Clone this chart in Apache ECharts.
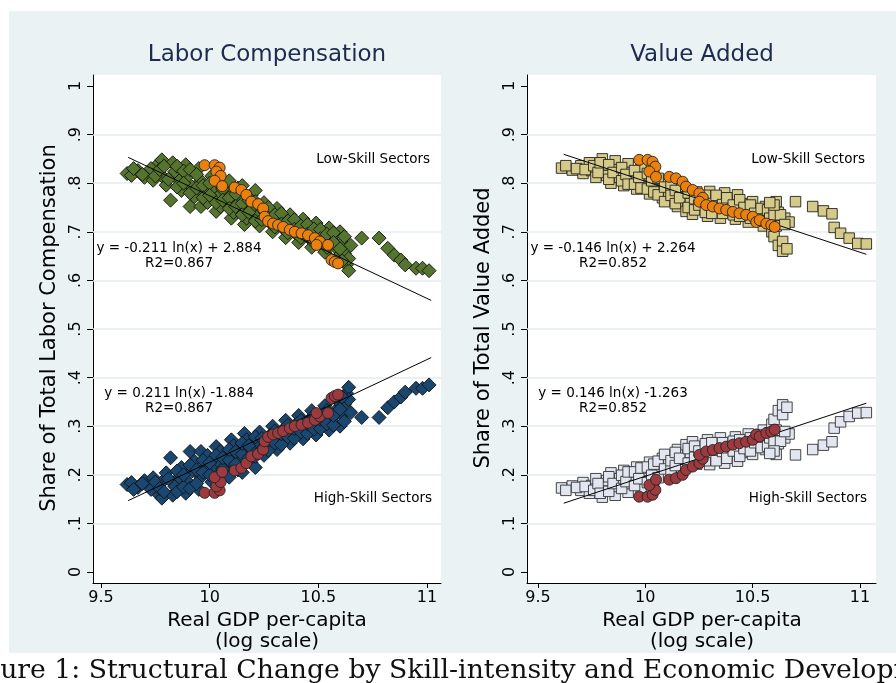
<!DOCTYPE html>
<html>
<head>
<meta charset="utf-8">
<script src="https://cdn.jsdelivr.net/npm/echarts@6.0.0/dist/echarts.min.js"></script>
<style>
  html, body { margin: 0; padding: 0; background: #fff; }
  #chart { width: 896px; height: 683px; }
</style>
</head>
<body>
<div id="chart"></div>
<script>
// ---- data (x = log real GDP per capita, y = share) ----
const xTicks = [9.5, 10, 10.5, 11];
const yTicks = [0, .1, .2, .3, .4, .5, .6, .7, .8, .9, 1];
const gridY = [.1, .2, .3, .4, .5, .6, .7, .8, .9];

// labor compensation, low-skill sectors (green diamonds)
const lcLowPoints = [
  [9.62,0.820],[9.64,0.816],[9.67,0.826],[9.70,0.812],[9.72,0.822],[9.74,0.806],[9.76,0.838],[9.78,0.848],
  [9.78,0.815],[9.80,0.796],[9.82,0.765],[9.83,0.842],[9.84,0.824],[9.86,0.805],[9.87,0.785],[9.89,0.838],
  [9.90,0.815],[9.91,0.752],[9.92,0.792],[9.93,0.772],[9.95,0.830],[9.96,0.805],[9.96,0.752],[9.98,0.782],
  [9.99,0.760],[10.01,0.815],[10.02,0.793],[10.03,0.742],[10.04,0.772],[10.05,0.752],[10.07,0.800],[10.08,0.780],
  [10.09,0.805],[10.10,0.760],[10.10,0.728],[10.11,0.740],[10.13,0.790],[10.14,0.768],[10.15,0.795],[10.16,0.748],
  [10.16,0.715],[10.17,0.728],[10.19,0.775],[10.20,0.752],[10.21,0.785],[10.22,0.732],[10.23,0.712],[10.25,0.760],
  [10.26,0.738],[10.28,0.718],[10.29,0.700],[10.31,0.748],[10.32,0.726],[10.34,0.706],[10.35,0.688],[10.37,0.735],
  [10.38,0.714],[10.40,0.695],[10.41,0.678],[10.43,0.726],[10.44,0.705],[10.46,0.686],[10.47,0.668],[10.49,0.718],
  [10.50,0.696],[10.52,0.676],[10.53,0.658],[10.55,0.708],[10.56,0.688],[10.58,0.668],[10.59,0.648],[10.60,0.700],
  [10.61,0.678],[10.62,0.655],[10.63,0.632],[10.64,0.620],[10.65,0.672],
  [9.65,0.830],[9.69,0.818],[9.73,0.830],[9.75,0.815],[9.77,0.828],[9.79,0.835],[9.81,0.808],[9.85,0.835],
  [9.85,0.792],[9.88,0.825],[9.88,0.800],[9.91,0.828],[9.91,0.780],[9.94,0.818],[9.94,0.790],[9.97,0.795],
  [9.97,0.770],[10.00,0.800],[10.00,0.775],[10.03,0.805],[10.03,0.760],[10.06,0.788],[10.06,0.765],[10.09,0.770],
  [10.09,0.748],[10.12,0.778],[10.12,0.752],[10.15,0.758],[10.15,0.735],[10.18,0.765],[10.18,0.740],[10.21,0.762],
  [10.21,0.722],[10.24,0.748],[10.24,0.725],[10.27,0.750],[10.27,0.728],[10.30,0.735],[10.30,0.710],[10.33,0.738],
  [10.33,0.716],[10.36,0.722],[10.36,0.698],[10.39,0.725],[10.39,0.705],[10.42,0.712],[10.42,0.688],[10.45,0.715],
  [10.45,0.695],[10.48,0.706],[10.48,0.678],[10.51,0.705],[10.51,0.686],[10.54,0.695],[10.54,0.668],[10.57,0.698],
  [10.57,0.678],[10.60,0.665],[10.62,0.690],[10.64,0.645],[10.61,0.640],
  [10.70,0.687],[10.78,0.687],[10.82,0.666],[10.85,0.652],[10.88,0.642],[10.90,0.632],[10.95,0.625],[10.98,0.625],[11.01,0.620]
];
// labor compensation, high-skill sectors (navy diamonds)
const lcHighPoints = [
  [9.62,0.180],[9.64,0.184],[9.67,0.174],[9.70,0.188],[9.72,0.178],[9.74,0.194],[9.76,0.162],[9.78,0.152],
  [9.78,0.185],[9.80,0.204],[9.82,0.235],[9.83,0.158],[9.84,0.176],[9.86,0.195],[9.87,0.215],[9.89,0.162],
  [9.90,0.185],[9.91,0.248],[9.92,0.208],[9.93,0.228],[9.95,0.170],[9.96,0.195],[9.96,0.248],[9.98,0.218],
  [9.99,0.240],[10.01,0.185],[10.02,0.207],[10.03,0.258],[10.04,0.228],[10.05,0.248],[10.07,0.200],[10.08,0.220],
  [10.09,0.195],[10.10,0.240],[10.10,0.272],[10.11,0.260],[10.13,0.210],[10.14,0.232],[10.15,0.205],[10.16,0.252],
  [10.16,0.285],[10.17,0.272],[10.19,0.225],[10.20,0.248],[10.21,0.215],[10.22,0.268],[10.23,0.288],[10.25,0.240],
  [10.26,0.262],[10.28,0.282],[10.29,0.300],[10.31,0.252],[10.32,0.274],[10.34,0.294],[10.35,0.312],[10.37,0.265],
  [10.38,0.286],[10.40,0.305],[10.41,0.322],[10.43,0.274],[10.44,0.295],[10.46,0.314],[10.47,0.332],[10.49,0.282],
  [10.50,0.304],[10.52,0.324],[10.53,0.342],[10.55,0.292],[10.56,0.312],[10.58,0.332],[10.59,0.352],[10.60,0.300],
  [10.61,0.322],[10.62,0.345],[10.63,0.368],[10.64,0.380],[10.65,0.328],
  [9.65,0.170],[9.69,0.182],[9.73,0.170],[9.75,0.185],[9.77,0.172],[9.79,0.165],[9.81,0.192],[9.85,0.165],
  [9.85,0.208],[9.88,0.175],[9.88,0.200],[9.91,0.172],[9.91,0.220],[9.94,0.182],[9.94,0.210],[9.97,0.205],
  [9.97,0.230],[10.00,0.200],[10.00,0.225],[10.03,0.195],[10.03,0.240],[10.06,0.212],[10.06,0.235],[10.09,0.230],
  [10.09,0.252],[10.12,0.222],[10.12,0.248],[10.15,0.242],[10.15,0.265],[10.18,0.235],[10.18,0.260],[10.21,0.238],
  [10.21,0.278],[10.24,0.252],[10.24,0.275],[10.27,0.250],[10.27,0.272],[10.30,0.265],[10.30,0.290],[10.33,0.262],
  [10.33,0.284],[10.36,0.278],[10.36,0.302],[10.39,0.275],[10.39,0.295],[10.42,0.288],[10.42,0.312],[10.45,0.285],
  [10.45,0.305],[10.48,0.294],[10.48,0.322],[10.51,0.295],[10.51,0.314],[10.54,0.305],[10.54,0.332],[10.57,0.302],
  [10.57,0.322],[10.60,0.335],[10.62,0.310],[10.64,0.355],[10.61,0.360],
  [10.70,0.318],[10.78,0.318],[10.82,0.338],[10.85,0.350],[10.88,0.360],[10.90,0.370],[10.95,0.378],[10.98,0.378],[11.01,0.385]
];
// labor compensation, averages (circles)
const lcLowMean = [
  [9.977,0.837],[10.023,0.837],[10.046,0.832],[10.031,0.824],[10.051,0.815],[10.023,0.805],[10.058,0.794],[10.115,0.791],
  [10.146,0.786],[10.169,0.776],[10.192,0.762],[10.223,0.757],[10.246,0.748],[10.253,0.731],[10.269,0.722],[10.292,0.717],
  [10.315,0.714],[10.338,0.710],[10.369,0.704],[10.392,0.700],[10.423,0.697],[10.453,0.693],[10.484,0.687],[10.507,0.680],
  [10.492,0.673],[10.545,0.673],[10.561,0.642],[10.576,0.638],[10.591,0.635]
];
const lcHighMean = [
  [9.977,0.163],[10.023,0.163],[10.046,0.168],[10.031,0.176],[10.051,0.185],[10.023,0.195],[10.058,0.206],[10.115,0.209],
  [10.146,0.214],[10.169,0.224],[10.192,0.238],[10.223,0.243],[10.246,0.252],[10.253,0.269],[10.269,0.278],[10.292,0.283],
  [10.315,0.286],[10.338,0.290],[10.369,0.296],[10.392,0.300],[10.423,0.303],[10.453,0.307],[10.484,0.313],[10.507,0.320],
  [10.492,0.327],[10.545,0.327],[10.561,0.358],[10.576,0.362],[10.591,0.365]
];
// value added, low-skill sectors (khaki squares)
const vaLowPoints = [
  [9.61,0.831],[9.66,0.827],[9.70,0.836],[9.71,0.820],[9.74,0.842],[9.75,0.826],[9.77,0.812],[9.80,0.850],
  [9.81,0.833],[9.82,0.816],[9.84,0.800],[9.86,0.846],[9.87,0.828],[9.88,0.812],[9.90,0.795],[9.92,0.840],
  [9.93,0.822],[9.94,0.805],[9.96,0.788],[9.98,0.830],[9.99,0.812],[10.00,0.795],[10.02,0.778],[10.04,0.815],
  [10.05,0.800],[10.07,0.786],[10.08,0.770],[10.10,0.800],[10.11,0.782],[10.13,0.766],[10.15,0.752],[10.17,0.790],
  [10.18,0.772],[10.19,0.742],[10.21,0.758],[10.22,0.736],[10.24,0.782],[10.26,0.764],[10.27,0.748],[10.29,0.732],
  [10.30,0.783],[10.32,0.766],[10.34,0.750],[10.35,0.728],[10.37,0.780],[10.39,0.762],[10.40,0.745],[10.42,0.726],
  [10.43,0.776],[10.45,0.758],[10.47,0.740],[10.48,0.720],[10.50,0.762],[10.52,0.745],[10.53,0.728],[10.55,0.712],
  [10.56,0.752],[10.57,0.736],[10.58,0.718],[10.59,0.700],[10.60,0.690],[10.61,0.762],[10.62,0.740],[10.62,0.672],
  [10.63,0.722],[10.64,0.680],[10.64,0.660],[10.65,0.728],[10.66,0.665],[10.67,0.720],
  [9.63,0.836],[9.68,0.830],[9.72,0.828],[9.76,0.836],[9.78,0.822],[9.79,0.842],[9.83,0.838],[9.83,0.808],
  [9.85,0.822],[9.89,0.832],[9.89,0.805],[9.91,0.818],[9.92,0.798],[9.95,0.826],[9.95,0.798],[9.97,0.812],
  [9.98,0.790],[10.01,0.820],[10.01,0.788],[10.03,0.805],[10.04,0.782],[10.06,0.810],[10.06,0.776],[10.09,0.792],
  [10.09,0.762],[10.12,0.795],[10.12,0.775],[10.14,0.785],[10.14,0.758],[10.16,0.770],[10.20,0.780],[10.20,0.750],
  [10.23,0.768],[10.23,0.745],[10.25,0.755],[10.28,0.775],[10.28,0.740],[10.31,0.758],[10.31,0.738],[10.33,0.775],
  [10.36,0.756],[10.36,0.738],[10.38,0.770],[10.41,0.755],[10.41,0.735],[10.44,0.766],[10.44,0.732],[10.46,0.750],
  [10.49,0.755],[10.49,0.728],[10.51,0.738],[10.54,0.748],[10.54,0.722],[10.57,0.745],[10.58,0.728],[10.60,0.735],
  [10.61,0.712],[10.63,0.735],[10.65,0.715],[10.60,0.755],[10.58,0.760],
  [10.70,0.762],[10.78,0.752],[10.83,0.743],[10.87,0.737],[10.88,0.709],[10.91,0.697],[10.95,0.687],[10.99,0.676],[11.03,0.675]
];
// value added, high-skill sectors (light squares)
const vaHighPoints = [
  [9.61,0.173],[9.66,0.177],[9.70,0.168],[9.71,0.184],[9.74,0.162],[9.75,0.178],[9.77,0.192],[9.80,0.154],
  [9.81,0.171],[9.82,0.188],[9.84,0.204],[9.86,0.158],[9.87,0.176],[9.88,0.192],[9.90,0.209],[9.92,0.164],
  [9.93,0.182],[9.94,0.199],[9.96,0.216],[9.98,0.174],[9.99,0.192],[10.00,0.209],[10.02,0.226],[10.04,0.189],
  [10.05,0.204],[10.07,0.218],[10.08,0.234],[10.10,0.204],[10.11,0.222],[10.13,0.238],[10.15,0.252],[10.17,0.214],
  [10.18,0.232],[10.19,0.262],[10.21,0.246],[10.22,0.268],[10.24,0.222],[10.26,0.240],[10.27,0.256],[10.29,0.272],
  [10.30,0.221],[10.32,0.238],[10.34,0.254],[10.35,0.276],[10.37,0.224],[10.39,0.242],[10.40,0.259],[10.42,0.278],
  [10.43,0.228],[10.45,0.246],[10.47,0.264],[10.48,0.284],[10.50,0.242],[10.52,0.259],[10.53,0.276],[10.55,0.292],
  [10.56,0.252],[10.57,0.268],[10.58,0.286],[10.59,0.304],[10.60,0.314],[10.61,0.242],[10.62,0.264],[10.62,0.332],
  [10.63,0.282],[10.64,0.324],[10.64,0.344],[10.65,0.276],[10.66,0.339],[10.67,0.284],
  [9.63,0.168],[9.68,0.174],[9.72,0.176],[9.76,0.168],[9.78,0.182],[9.79,0.162],[9.83,0.166],[9.83,0.196],
  [9.85,0.182],[9.89,0.172],[9.89,0.199],[9.91,0.186],[9.92,0.206],[9.95,0.178],[9.95,0.206],[9.97,0.192],
  [9.98,0.214],[10.01,0.184],[10.01,0.216],[10.03,0.199],[10.04,0.222],[10.06,0.194],[10.06,0.228],[10.09,0.212],
  [10.09,0.242],[10.12,0.209],[10.12,0.229],[10.14,0.219],[10.14,0.246],[10.16,0.234],[10.20,0.224],[10.20,0.254],
  [10.23,0.236],[10.23,0.259],[10.25,0.249],[10.28,0.229],[10.28,0.264],[10.31,0.246],[10.31,0.266],[10.33,0.229],
  [10.36,0.248],[10.36,0.266],[10.38,0.234],[10.41,0.249],[10.41,0.269],[10.44,0.238],[10.44,0.272],[10.46,0.254],
  [10.49,0.249],[10.49,0.276],[10.51,0.266],[10.54,0.256],[10.54,0.282],[10.57,0.259],[10.58,0.276],[10.60,0.269],
  [10.61,0.292],[10.63,0.269],[10.65,0.289],[10.60,0.249],[10.58,0.244],
  [10.70,0.241],[10.78,0.252],[10.83,0.261],[10.87,0.268],[10.88,0.296],[10.91,0.309],[10.95,0.320],[10.99,0.327],[11.03,0.328]
];
const vaLowMean = [
  [9.972,0.848],[10.011,0.848],[10.034,0.844],[10.047,0.834],[10.019,0.824],[10.050,0.813],[10.112,0.813],[10.143,0.810],
  [10.174,0.803],[10.190,0.793],[10.221,0.786],[10.252,0.779],[10.268,0.770],[10.252,0.762],[10.284,0.755],[10.315,0.752],
  [10.346,0.748],[10.377,0.745],[10.408,0.741],[10.439,0.738],[10.470,0.735],[10.501,0.731],[10.517,0.720],[10.533,0.724],
  [10.564,0.717],[10.587,0.714],[10.603,0.710]
];
const vaHighMean = [
  [9.972,0.155],[10.011,0.155],[10.034,0.159],[10.047,0.169],[10.019,0.179],[10.050,0.190],[10.112,0.190],[10.143,0.193],
  [10.174,0.200],[10.190,0.210],[10.221,0.217],[10.252,0.224],[10.268,0.233],[10.252,0.241],[10.284,0.248],[10.315,0.251],
  [10.346,0.255],[10.377,0.258],[10.408,0.262],[10.439,0.265],[10.470,0.268],[10.501,0.272],[10.517,0.283],[10.533,0.279],
  [10.564,0.286],[10.587,0.289],[10.603,0.293]
];

// fitted lines: y = slope*ln(x) + intercept  (LC low, LC high, VA low, VA high)
const fitSlope = [-0.211, 0.211, -0.146, 0.146];
const fitIntercept = [2.884, -1.884, 2.264, -1.263];
const fitR2 = [0.867, 0.867, 0.852, 0.852];
const fitFrom = [9.625, 9.625, 9.62, 9.62];
const fitTo = [11.02, 11.02, 11.03, 11.03];

const panelTitles = ['Labor Compensation', 'Value Added'];
const yTitles = ['Share of Total Labor Compensation', 'Share of Total Value Added'];

// ---- chart ----
const chart = echarts.init(document.getElementById('chart'));
const FONT = '"DejaVu Sans", sans-serif';

const panels = [
  { left: 93, width: 348, xMin: 9.463, xMax: 11.065, cx: 267 },
  { left: 527, width: 349, xMin: 9.449, xMax: 11.075, cx: 702 }
];

function fitLine(i) {
  return [fitFrom[i], fitTo[i]].map(x => [x, fitSlope[i] * x + fitIntercept[i]]);
}
function fitText(i) {
  const b = fitIntercept[i];
  const c = b >= 0 ? ' + ' + b.toFixed(3) : ' -' + Math.abs(b).toFixed(3);
  return 'y = ' + fitSlope[i].toFixed(3) + ' ln(x)' + c + '\nR2=' + fitR2[i].toFixed(3);
}

const grid = panels.map(p => ({
  left: p.left, top: 75, width: p.width, height: 508,
  show: true, backgroundColor: '#fff', borderWidth: 0
}));

const xAxis = panels.map((p, i) => ({
  gridIndex: i, type: 'value', min: p.xMin, max: p.xMax,
  axisLine: { show: true, onZero: false, lineStyle: { color: '#000', width: 1 } },
  axisTick: { show: true, length: 5, customValues: xTicks, lineStyle: { color: '#000' } },
  axisLabel: { customValues: xTicks, color: '#000', fontSize: 16, fontFamily: FONT, margin: 7 },
  splitLine: { show: false }
}));

const yAxis = panels.map((p, i) => ({
  gridIndex: i, type: 'value', min: -0.0226, max: 1.0226,
  axisLine: { show: true, onZero: false, lineStyle: { color: '#000', width: 1 } },
  axisTick: { show: true, length: 6, customValues: yTicks, lineStyle: { color: '#000' } },
  axisLabel: {
    customValues: yTicks, rotate: 90, color: '#000', fontSize: 16, fontFamily: FONT, margin: 9,
    formatter: v => (v === 0 ? '0' : v === 1 ? '1' : '.' + Math.round(v * 10))
  },
  splitLine: { show: false }
}));

function scatter(i, data, symbol, size, color, border, z) {
  return {
    type: 'scatter', xAxisIndex: i, yAxisIndex: i, data, symbol, symbolSize: size, z,
    itemStyle: { color, borderColor: border, borderWidth: 0.9, opacity: 1 }
  };
}
function line(i, k) {
  return {
    type: 'line', xAxisIndex: i, yAxisIndex: i, data: fitLine(k), showSymbol: false, z: 3,
    lineStyle: { color: '#000', width: 1 }
  };
}
function gridLines(i) {
  return {
    type: 'scatter', xAxisIndex: i, yAxisIndex: i, data: [], z: 1,
    markLine: {
      silent: true, symbol: ['none', 'none'], z: 1, label: { show: false },
      lineStyle: { color: '#E4ECEE', width: 1.5, type: 'solid' },
      data: gridY.map(v => ({ yAxis: v }))
    }
  };
}

const series = [
  gridLines(0), gridLines(1),
  scatter(0, lcLowPoints, 'diamond', 14, '#55752F', '#111', 2),
  scatter(0, lcHighPoints, 'diamond', 14, '#1A476F', '#111', 2),
  line(0, 0), line(0, 1),
  scatter(0, lcLowMean, 'circle', 11, '#EC800C', '#222', 4),
  scatter(0, lcHighMean, 'circle', 11, '#9C3A3F', '#222', 4),
  scatter(1, vaLowPoints, 'rect', 10.5, '#D6CA88', '#222', 2),
  scatter(1, vaHighPoints, 'rect', 10.5, '#E2E6F0', '#333', 2),
  line(1, 2), line(1, 3),
  scatter(1, vaLowMean, 'circle', 11, '#EC800C', '#222', 4),
  scatter(1, vaHighMean, 'circle', 11, '#9C3A3F', '#222', 4)
];

function txt(text, x, y, size, opts) {
  return Object.assign({
    type: 'text', x, y, silent: true,
    style: Object.assign({
      text, fill: '#000', fontSize: size, fontFamily: FONT,
      align: 'center', verticalAlign: 'middle', lineHeight: 14.5
    }, (opts && opts.style) || {})
  }, opts && opts.el);
}

const graphic = [
  { type: 'rect', z: -10, silent: true, shape: { x: 9, y: 11, width: 887, height: 642 }, style: { fill: '#EAF2F3' } }
];
panels.forEach((p, i) => {
  graphic.push(txt(panelTitles[i], p.cx, 55, 23, { style: { fill: '#1C2B4F' } }));
  graphic.push(txt(yTitles[i], p.left - 43, 328, 21, { el: { rotation: Math.PI / 2 } }));
  graphic.push(txt('Real GDP per-capita\n(log scale)', p.cx, 631, 20, { style: { lineHeight: 21 } }));
  graphic.push(txt('Low-Skill Sectors', p.left + p.width - 11, 159, 13.5, { style: { align: 'right' } }));
  graphic.push(txt('High-Skill Sectors', p.left + p.width - 9, 498, 13.5, { style: { align: 'right' } }));
  graphic.push(txt(fitText(2 * i), p.left + 86, 256, 13.5));
  graphic.push(txt(fitText(2 * i + 1), p.left + 86, 401, 13.5));
});
graphic.push({
  type: 'text', x: -44, y: 671, silent: true,
  style: {
    text: 'Figure 1: Structural Change by Skill-intensity and Economic Development',
    fill: '#111', fontSize: 26.7, fontFamily: '"DejaVu Serif", serif',
    align: 'left', verticalAlign: 'middle'
  }
});

chart.setOption({
  animation: false,
  grid, xAxis, yAxis, series, graphic
});
</script>
</body>
</html>
